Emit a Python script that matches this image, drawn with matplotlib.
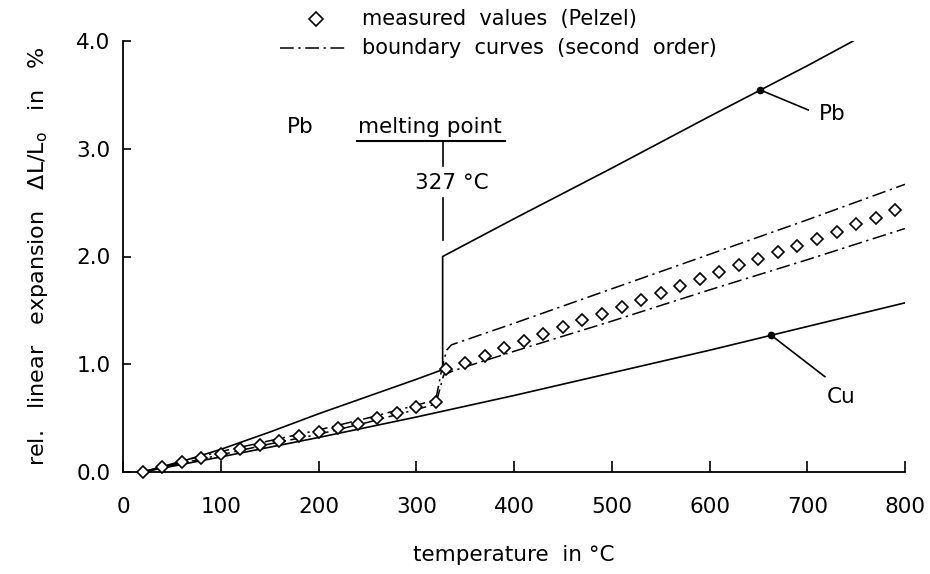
import matplotlib
matplotlib.use("Agg")
import matplotlib.pyplot as plt
from matplotlib.lines import Line2D

plt.rcParams['font.family'] = ['DejaVu Sans']

# ---- data ----
x_ticks = [0, 100, 200, 300, 400, 500, 600, 700, 800]
x_ticklabels = ["0", "100", "200", "300", "400", "500", "600", "700", "800"]
y_ticks = [0.0, 1.0, 2.0, 3.0, 4.0]
y_ticklabels = ["0.0", "1.0", "2.0", "3.0", "4.0"]

# measured values (Pelzel)
meas_temp = [20, 40, 60, 80, 100, 120, 140, 160, 180, 200, 220, 240, 260, 280, 300, 320,
             330, 350, 370, 390, 410, 430, 450, 470, 490, 510, 530, 550, 570, 590,
             610, 630, 650, 670, 690, 710, 730, 750, 770, 790]
meas_val = [0.0, 0.05, 0.09, 0.13, 0.17, 0.21, 0.25, 0.29, 0.33, 0.37, 0.41, 0.45, 0.50, 0.55, 0.60, 0.65,
            0.96, 1.01, 1.08, 1.15, 1.22, 1.28, 1.35, 1.41, 1.47, 1.53, 1.60, 1.66, 1.73, 1.79,
            1.86, 1.92, 1.98, 2.04, 2.10, 2.16, 2.23, 2.30, 2.36, 2.43]

# boundary curves (second order)
upper_temp = [20, 60, 100, 150, 200, 250, 300, 320, 326, 331, 336, 400, 500, 600, 700, 800]
upper_val = [0.0, 0.10, 0.19, 0.29, 0.39, 0.50, 0.62, 0.67, 0.95, 1.13, 1.18, 1.38, 1.70, 2.02, 2.34, 2.67]
lower_temp = [20, 60, 100, 150, 200, 250, 300, 320, 328, 338, 400, 500, 600, 700, 800]
lower_val = [0.0, 0.08, 0.16, 0.26, 0.35, 0.46, 0.58, 0.63, 0.90, 0.94, 1.12, 1.40, 1.69, 1.97, 2.26]

# Pb (solid)
pb_temp = [20, 50, 100, 150, 200, 250, 300, 327, 327, 400, 500, 600, 700, 747]
pb_val = [0.0, 0.07, 0.21, 0.37, 0.54, 0.70, 0.86, 0.95, 2.0, 2.35, 2.82, 3.30, 3.77, 4.0]

# Cu (solid)
cu_temp = [20, 100, 200, 300, 400, 500, 600, 700, 800]
cu_val = [0.0, 0.14, 0.32, 0.51, 0.71, 0.92, 1.13, 1.35, 1.57]

# labelled points
pb_dot = (652, 3.545)
pb_leader_end = (701, 3.36)
pb_label_pos = (712, 3.32)
cu_dot = (663, 1.27)
cu_leader_end = (718, 0.885)
cu_label_pos = (720, 0.70)
melt_temp = 327

# ---- figure ----
W, H = 930, 574
fig = plt.figure(figsize=(W / 100, H / 100), dpi=100)
ax = fig.add_axes([123 / W, 1 - 472 / H, (905 - 123) / W, (472 - 41) / H])

lw = 1.2
dashdot = (0, (9, 3, 1.5, 3))

ax.plot(pb_temp, pb_val, color='black', lw=lw, solid_joinstyle='round')
ax.plot(cu_temp, cu_val, color='black', lw=lw)
ax.plot(upper_temp, upper_val, color='black', lw=1.1, linestyle=dashdot)
ax.plot(lower_temp, lower_val, color='black', lw=1.1, linestyle=dashdot)
ax.plot(meas_temp, meas_val, linestyle='none', marker='D', markersize=6.5,
        markerfacecolor='white', markeredgecolor='black', markeredgewidth=1.2,
        clip_on=False, zorder=3)

# labels with leader lines
ax.plot([pb_dot[0], pb_leader_end[0]], [pb_dot[1], pb_leader_end[1]], color='black', lw=lw)
ax.plot([pb_dot[0]], [pb_dot[1]], marker='o', markersize=4.5, color='black')
ax.text(pb_label_pos[0], pb_label_pos[1], "Pb", fontsize=15.5, ha='left', va='center')
ax.plot([cu_dot[0], cu_leader_end[0]], [cu_dot[1], cu_leader_end[1]], color='black', lw=lw)
ax.plot([cu_dot[0]], [cu_dot[1]], marker='o', markersize=4.5, color='black')
ax.text(cu_label_pos[0], cu_label_pos[1], "Cu", fontsize=15.5, ha='left', va='center')

# melting point annotation
ax.text(168, 3.20, "Pb", fontsize=15.5, ha='left', va='center')
ax.text(314, 3.20, "melting point", fontsize=15.5, ha='center', va='center')
ax.plot([239, 391], [3.07, 3.07], color='black', lw=1.5, clip_on=False)
ax.plot([melt_temp, melt_temp], [3.07, 2.84], color='black', lw=lw)
ax.text(336, 2.68, "327 °C", fontsize=15.5, ha='center', va='center')
ax.plot([melt_temp, melt_temp], [2.54, 2.15], color='black', lw=lw)

# axes styling
ax.set_xlim(0, 800)
ax.set_ylim(0, 4.0)
ax.spines['top'].set_visible(False)
ax.spines['right'].set_visible(False)
for s in ('left', 'bottom'):
    ax.spines[s].set_linewidth(1.3)
ax.set_xticks(x_ticks)
ax.set_xticklabels(x_ticklabels)
ax.set_yticks(y_ticks)
ax.set_yticklabels(y_ticklabels)
ax.tick_params(axis='x', direction='in', length=8, width=1.2, labelsize=15.5, pad=18)
ax.tick_params(axis='y', direction='in', length=6, width=1.2, labelsize=15.5, pad=9)

fig.text(38 / W, 1 - 256 / H, "rel.   linear   expansion   ΔL/L$_\\mathregular{o}$   in   %",
         rotation=90, fontsize=16, ha='center', va='center')
fig.text(514 / W, 1 - 555 / H, "temperature  in °C", fontsize=15.5, ha='center', va='center')

# legend (drawn manually, above the plot)
fig.add_artist(Line2D([316 / W], [1 - 19 / H], marker='D', markersize=7,
                      markerfacecolor='white', markeredgecolor='black',
                      markeredgewidth=1.2, linestyle='none', transform=fig.transFigure))
fig.add_artist(Line2D([280 / W, 347 / W], [1 - 48 / H, 1 - 48 / H], color='black',
                      lw=1.1, linestyle=dashdot, transform=fig.transFigure))
fig.text(362 / W, 1 - 19 / H, "measured  values  (Pelzel)", fontsize=15, ha='left', va='center')
fig.text(362 / W, 1 - 48 / H, "boundary  curves  (second  order)", fontsize=15, ha='left', va='center')

fig.savefig("out.png", dpi=100)
